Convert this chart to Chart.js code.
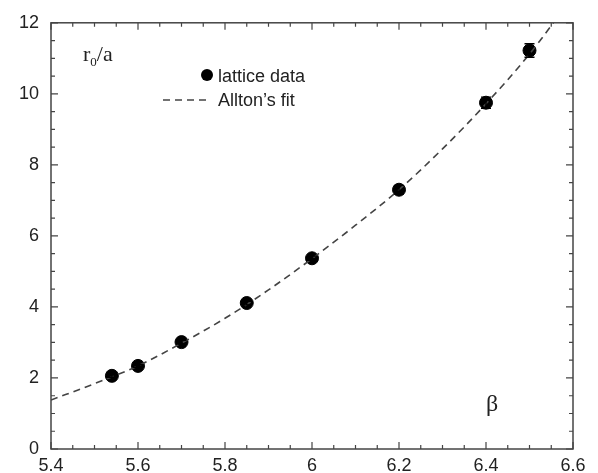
<!DOCTYPE html>
<html>
<head>
<meta charset="utf-8">
<title>r0/a vs beta</title>
<script src="https://cdn.jsdelivr.net/npm/chart.js@4/dist/chart.umd.min.js"></script>
<style>
  html, body { margin: 0; padding: 0; background: #fff; }
  #wrap { width: 598px; height: 473px; position: relative; }
</style>
</head>
<body>
<div id="wrap"><canvas id="chart"></canvas></div>
<script>
// lattice points
const beta = [5.54, 5.6, 5.7, 5.85, 6.0, 6.2, 6.4, 6.5];
const r0a = [2.06, 2.34, 3.01, 4.11, 5.37, 7.30, 9.75, 11.22];
const r0aErr = [0.04, 0.04, 0.05, 0.05, 0.06, 0.12, 0.16, 0.19];

// Allton's fit
const fitBeta = [5.4, 5.5, 5.6, 5.7, 5.8, 5.9, 6.0, 6.1, 6.2, 6.3, 6.4, 6.5, 6.6];
const fitR0a = [1.38, 1.84, 2.34, 2.98, 3.68, 4.48, 5.36, 6.30, 7.30, 8.45, 9.72, 11.12, 12.75];

const xTicks = [5.4, 5.6, 5.8, 6.0, 6.2, 6.4, 6.6];
const yTicks = [0, 2, 4, 6, 8, 10, 12];

const axisColor = '#444';
const textColor = '#222';
const sansFont = '"Liberation Sans", Arial, sans-serif';
const serifFont = '"Liberation Serif", "Times New Roman", serif';

// frame with inward ticks on all four sides
const frameTicks = {
  id: 'frameTicks',
  afterDraw(chart) {
    const { ctx, chartArea: a, scales: { x, y } } = chart;
    ctx.save();
    ctx.strokeStyle = axisColor;
    ctx.lineWidth = 1.5;
    ctx.strokeRect(a.left, a.top, a.right - a.left, a.bottom - a.top);
    ctx.lineWidth = 1.2;
    ctx.beginPath();
    for (let i = 0; i <= 24; i++) {
      const v = 5.4 + i * 0.05;
      const px = x.getPixelForValue(v);
      const len = (i % 4 === 0) ? 7 : 4;
      ctx.moveTo(px, a.bottom); ctx.lineTo(px, a.bottom - len);
      ctx.moveTo(px, a.top); ctx.lineTo(px, a.top + len);
    }
    for (let i = 0; i <= 24; i++) {
      const v = i * 0.5;
      const py = y.getPixelForValue(v);
      const len = (i % 4 === 0) ? 7 : 4;
      ctx.moveTo(a.left, py); ctx.lineTo(a.left + len, py);
      ctx.moveTo(a.right, py); ctx.lineTo(a.right - len, py);
    }
    ctx.stroke();
    ctx.restore();
  }
};

// vertical error bars on the lattice points
const errorBars = {
  id: 'errorBars',
  afterDatasetsDraw(chart) {
    const { ctx, scales: { x, y } } = chart;
    ctx.save();
    ctx.strokeStyle = '#000';
    ctx.lineWidth = 1.3;
    beta.forEach((b, i) => {
      const px = x.getPixelForValue(b);
      const lo = y.getPixelForValue(r0a[i] - r0aErr[i]);
      const hi = y.getPixelForValue(r0a[i] + r0aErr[i]);
      ctx.beginPath();
      ctx.moveTo(px, lo); ctx.lineTo(px, hi);
      ctx.moveTo(px - 5, lo); ctx.lineTo(px + 5, lo);
      ctx.moveTo(px - 5, hi); ctx.lineTo(px + 5, hi);
      ctx.stroke();
    });
    ctx.restore();
  }
};

// axis titles and legend placed inside the frame
const labels = {
  id: 'labels',
  afterDraw(chart) {
    const { ctx } = chart;
    ctx.save();
    ctx.fillStyle = textColor;
    ctx.textBaseline = 'alphabetic';
    ctx.textAlign = 'left';

    ctx.font = '22px ' + serifFont;
    ctx.fillText('r', 83, 61);
    const rw = ctx.measureText('r').width;
    ctx.font = '13px ' + serifFont;
    ctx.fillText('0', 83 + rw, 66);
    const zw = ctx.measureText('0').width;
    ctx.font = '22px ' + serifFont;
    ctx.fillText('/a', 83 + rw + zw, 61);

    ctx.font = '24px ' + serifFont;
    ctx.fillText('\u03b2', 486, 411);

    // legend
    ctx.beginPath();
    ctx.arc(207, 75, 6, 0, Math.PI * 2);
    ctx.fillStyle = '#000';
    ctx.fill();
    ctx.strokeStyle = axisColor;
    ctx.lineWidth = 1.6;
    ctx.setLineDash([7, 5]);
    ctx.beginPath();
    ctx.moveTo(163, 100); ctx.lineTo(210, 100);
    ctx.stroke();
    ctx.setLineDash([]);
    ctx.fillStyle = textColor;
    ctx.font = '18px ' + sansFont;
    ctx.fillText('lattice data', 218, 82);
    ctx.fillText('Allton\u2019s fit', 218, 106);
    ctx.restore();
  }
};

new Chart(document.getElementById('chart'), {
  type: 'scatter',
  data: {
    datasets: [
      {
        label: "Allton's fit",
        data: fitBeta.map((b, i) => ({ x: b, y: fitR0a[i] })),
        showLine: true,
        borderColor: axisColor,
        borderWidth: 1.6,
        borderDash: [7, 5],
        cubicInterpolationMode: 'monotone',
        pointRadius: 0,
        clip: 0
      },
      {
        label: 'lattice data',
        data: beta.map((b, i) => ({ x: b, y: r0a[i] })),
        backgroundColor: '#000',
        borderColor: '#000',
        pointRadius: 6.5,
        pointHoverRadius: 6.5
      }
    ]
  },
  options: {
    responsive: true,
    maintainAspectRatio: false,
    animation: false,
    events: [],
    layout: { padding: { top: 14, right: 25, left: 0, bottom: 0 } },
    plugins: {
      legend: { display: false },
      tooltip: { enabled: false }
    },
    scales: {
      x: {
        type: 'linear',
        min: 5.4,
        max: 6.6,
        afterBuildTicks: (s) => { s.ticks = xTicks.map(v => ({ value: v })); },
        afterFit: (s) => { s.height = 24; },
        grid: { display: false, drawTicks: false },
        border: { display: false },
        ticks: {
          color: textColor,
          padding: 6,
          maxRotation: 0,
          font: { family: sansFont, size: 18 },
          callback: (v) => String(+v.toFixed(1))
        }
      },
      y: {
        type: 'linear',
        min: 0,
        max: 12,
        afterBuildTicks: (s) => { s.ticks = yTicks.map(v => ({ value: v })); },
        afterFit: (s) => { s.width = 51; },
        grid: { display: false, drawTicks: false },
        border: { display: false },
        ticks: {
          color: textColor,
          padding: 12,
          font: { family: sansFont, size: 18 }
        }
      }
    }
  },
  plugins: [frameTicks, errorBars, labels]
});
</script>
</body>
</html>
